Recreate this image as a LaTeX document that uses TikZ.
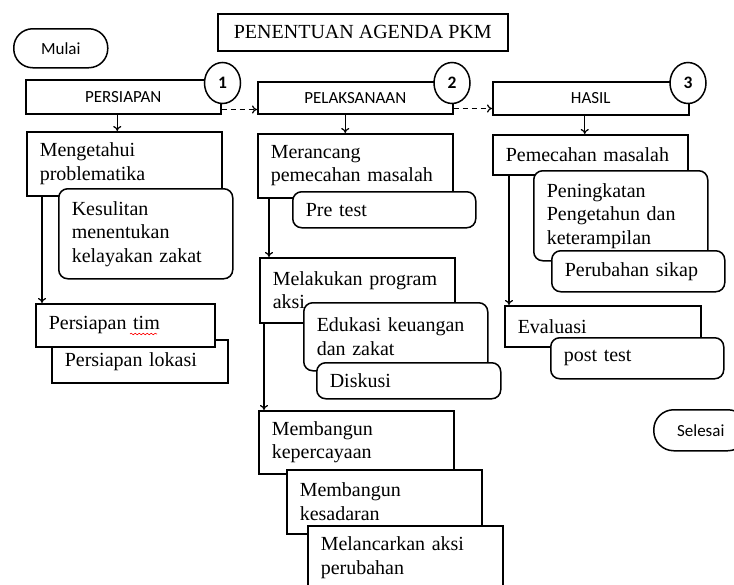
\documentclass[tikz,border=0pt]{standalone}
\usepackage{fontspec}
\setmainfont{Liberation Serif}
\newfontfamily\calibri{Carlito}
\usetikzlibrary{arrows.meta,shapes.geometric,decorations.pathmorphing}

\tikzset{
  box/.style={draw, fill=white, line width=1.5pt, inner xsep=13pt, inner ysep=1pt,
    align=left, anchor=north west, font=\fontsize{20}{23.5}\selectfont},
  rbox/.style={box, rounded corners=9pt},
  head/.style={draw, fill=white, line width=1.5pt, inner sep=0pt, anchor=north west,
    align=center, font=\calibri\fontsize{17}{19}\selectfont},
  num/.style={ellipse, draw, fill=white, line width=1.5pt, minimum width=36pt,
    minimum height=41pt, inner sep=0pt, font=\calibri\bfseries\fontsize{17.5}{19}\selectfont},
  arr/.style={-{To[length=5pt,width=8pt]}, line width=1.2pt},
  darr/.style={-{To[length=5pt,width=8pt]}, dash pattern=on 5pt off 4pt, line width=1.2pt},
}

\begin{document}
\begin{tikzpicture}[x=1pt, y=-1pt]
  \useasboundingbox (0,0) rectangle (734,584);
  \clip (0,0) rectangle (734,584);

  % title and start / end
  \node[box, align=center, inner xsep=0pt, minimum width=290pt, minimum height=37pt] (judul) at (217,13) {PENENTUAN AGENDA PKM};
  \node[head, rounded corners=19pt, minimum width=94pt, minimum height=39pt] (mulai) at (13,28) {Mulai};
  \node[head, rounded corners=20pt, minimum width=94pt, minimum height=41pt] (selesai) at (653,409) {Selesai};

  % stage headers
  \node[head, minimum width=195pt, minimum height=34pt] (persiapan) at (25,79) {PERSIAPAN};
  \node[head, minimum width=195pt, minimum height=32pt] (pelaksanaan) at (257,81) {PELAKSANAAN};
  \node[head, minimum width=196pt, minimum height=33pt] (hasil) at (492,81) {HASIL};
  \node[num] (n1) at (222.5,83) {1};
  \node[num] (n2) at (452,83) {2};
  \node[num] (n3) at (688,83) {3};

  % column 1
  \node[box, text width=169pt, minimum height=64pt] (mengetahui) at (26,131) {Mengetahui\\problematika};
  \node[rbox, text width=148pt, minimum height=90pt] (kesulitan) at (58,188) {Kesulitan\\menentukan\\kelayakan zakat};
  \node[box, text width=150pt, minimum height=43pt] (lokasi) at (51,339) {Persiapan lokasi};
  \node[box, text width=153pt, minimum height=43pt] (tim) at (35,303) {Persiapan tim};
  \draw[red, line width=0.6pt, decorate, decoration={snake, amplitude=0.8pt, segment length=4pt}] (130,334) -- (157,334);

  % column 2
  \node[box, text width=169pt, minimum height=64pt] (merancang) at (257,133) {Merancang\\pemecahan masalah};
  \node[rbox, text width=157pt, minimum height=36pt] (pretest) at (292,191) {Pre test};
  \node[box, text width=169pt, minimum height=65pt] (melakukan) at (259,257) {Melakukan program\\aksi};
  \node[rbox, text width=158pt, minimum height=68pt] (edukasi) at (303,302) {Edukasi keuangan\\dan zakat};
  \node[rbox, text width=158pt, minimum height=36pt] (diskusi) at (316,362) {Diskusi};
  \node[box, text width=169pt, minimum height=63pt] (kepercayaan) at (258,410) {Membangun\\kepercayaan};
  \node[box, text width=169pt, minimum height=64pt] (kesadaran) at (286,469) {Membangun\\kesadaran};
  \node[box, text width=169pt, minimum height=64pt] (melancarkan) at (307,525) {Melancarkan aksi\\perubahan};

  % column 3
  \node[box, text width=169pt, minimum height=40pt] (pemecahan) at (492,134) {Pemecahan masalah};
  \node[rbox, text width=148pt, minimum height=90pt] (peningkatan) at (533,170) {Peningkatan\\Pengetahun dan\\keterampilan};
  \node[rbox, text width=147pt, minimum height=41pt] (sikap) at (551,250) {Perubahan sikap};
  \node[box, text width=170pt, minimum height=41pt] (evaluasi) at (504,305) {Evaluasi};
  \node[rbox, text width=147pt, minimum height=41pt] (posttest) at (550,337) {post test};

  % flow between stages
  \draw[darr] ([yshift=5pt]persiapan.south east) -- ([yshift=5pt]persiapan.south east -| pelaksanaan.west);
  \draw[darr] ([yshift=6pt]pelaksanaan.south east) -- ([yshift=6pt]pelaksanaan.south east -| hasil.west);

  % flow inside stages
  \draw[arr] ([xshift=-6pt]persiapan.south) -- ([xshift=-6pt]persiapan.south |- mengetahui.north);
  \draw[arr] ([xshift=-10pt]pelaksanaan.south) -- ([xshift=-10pt]pelaksanaan.south |- merancang.north);
  \draw[arr] ([xshift=-6pt]hasil.south) -- ([xshift=-6pt]hasil.south |- pemecahan.north);
  \draw[arr] ([xshift=16pt]mengetahui.south west) -- ([xshift=16pt]mengetahui.south west |- tim.north);
  \draw[arr] ([xshift=12pt]merancang.south west) -- ([xshift=12pt]merancang.south west |- melakukan.north);
  \draw[arr] ([xshift=5pt]melakukan.south west) -- ([xshift=5pt]melakukan.south west |- kepercayaan.north);
  \draw[arr] ([xshift=17pt]pemecahan.south west) -- ([xshift=17pt]pemecahan.south west |- evaluasi.north);
\end{tikzpicture}
\end{document}
